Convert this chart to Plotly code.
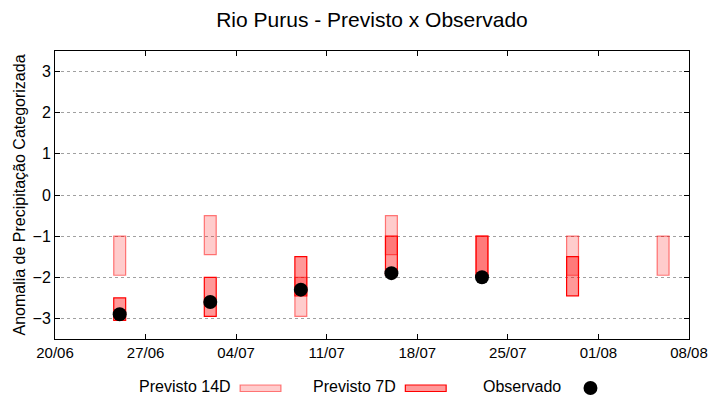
import plotly.graph_objects as go

# ---- data ----
dates = ["2024-06-25", "2024-07-02", "2024-07-09", "2024-07-16",
         "2024-07-23", "2024-07-30", "2024-08-06"]
prev14_top = [-1.0, -0.5, -2.0, -0.5, -1.0, -1.0, -1.0]
prev14_bot = [-1.95, -1.45, -2.95, -1.45, -1.95, -1.95, -1.95]
prev7_top = [-2.5, -2.0, -1.5, -1.0, -1.0, -1.5, None]
prev7_bot = [-3.05, -2.95, -2.45, -1.95, -1.95, -2.45, None]
observado = [-2.9, -2.6, -2.3, -1.9, -2.0, None, None]

x_tick_dates = ["2024-06-20", "2024-06-27", "2024-07-04", "2024-07-11",
                "2024-07-18", "2024-07-25", "2024-08-01", "2024-08-08"]
x_tick_labels = ["20/06", "27/06", "04/07", "11/07", "18/07", "25/07", "01/08", "08/08"]
y_ticks = [-3, -2, -1, 0, 1, 2, 3]

DAY = 86400000
bar_w = 0.92 * DAY

FONT = "Liberation Sans, Arial, sans-serif"

def spans(top, bot):
    xs, h, b = [], [], []
    for d, t, bo in zip(dates, top, bot):
        if t is None:
            continue
        xs.append(d)
        h.append(t - bo)
        b.append(bo)
    return xs, h, b

fig = go.Figure()

x14, h14, b14 = spans(prev14_top, prev14_bot)
fig.add_trace(go.Bar(x=x14, y=h14, base=b14, width=[bar_w] * len(x14),
                     marker=dict(color="rgba(255,0,0,0.2)",
                                 line=dict(color="rgba(255,0,0,0.5)", width=1.2)),
                     name="Previsto 14D", showlegend=False))

x7, h7, b7 = spans(prev7_top, prev7_bot)
fig.add_trace(go.Bar(x=x7, y=h7, base=b7, width=[bar_w] * len(x7),
                     marker=dict(color="rgba(255,0,0,0.4)",
                                 line=dict(color="#ff0000", width=1.2)),
                     name="Previsto 7D", showlegend=False))

ox = [d for d, v in zip(dates, observado) if v is not None]
oy = [v for v in observado if v is not None]
fig.add_trace(go.Scatter(x=ox, y=oy, mode="markers",
                         marker=dict(color="black", size=14),
                         name="Observado", showlegend=False))

# ---- gnuplot-style legend below the plot (paper coords) ----
L, R, T, B = 55, 692, 51, 339
def px(x):
    return (x - L) / (R - L)
def py(y):
    return (B - y) / (B - T)

leg_y = 386
items = [("Previsto 14D", 234, "box14"), ("Previsto 7D", 400, "box7"), ("Observado", 565, "dot")]
for text, xr, kind in items:
    fig.add_annotation(x=px(xr), y=py(leg_y), xref="paper", yref="paper",
                       text=text, showarrow=False, xanchor="right", yanchor="middle",
                       font=dict(family=FONT, size=16, color="#000"))
fig.add_shape(type="rect", xref="paper", yref="paper",
              x0=px(241), x1=px(282), y0=py(385), y1=py(391.5),
              fillcolor="rgba(255,0,0,0.2)", line=dict(color="rgba(255,0,0,0.5)", width=1.2))
fig.add_shape(type="rect", xref="paper", yref="paper",
              x0=px(407), x1=px(448), y0=py(385), y1=py(391.5),
              fillcolor="rgba(255,0,0,0.4)", line=dict(color="#ff0000", width=1.2))
fig.add_shape(type="circle", xref="paper", yref="paper",
              x0=px(586), x1=px(600), y0=py(381), y1=py(395),
              fillcolor="black", line=dict(color="black", width=0))

fig.update_layout(
    width=720, height=400,
    margin=dict(l=L, r=720 - R, t=T, b=400 - B),
    paper_bgcolor="white", plot_bgcolor="white",
    barmode="overlay",
    title=dict(text="Rio Purus - Previsto x Observado", x=0.5, xref="paper",
               y=1 - 20 / 400, yanchor="middle",
               font=dict(family=FONT, size=21, color="#000")),
    font=dict(family=FONT, size=16, color="#000"),
    xaxis=dict(type="date", range=["2024-06-20", "2024-08-08"],
               tickvals=x_tick_dates, ticktext=x_tick_labels,
               ticks="inside", ticklen=5, tickcolor="black",
               showline=True, linecolor="black", linewidth=1, mirror="ticks",
               showgrid=False, zeroline=False,
               tickfont=dict(family=FONT, size=15)),
    yaxis=dict(range=[-3.5, 3.5], tickvals=y_ticks,
               ticks="inside", ticklen=5, tickcolor="black",
               showline=True, linecolor="black", linewidth=1, mirror="ticks",
               showgrid=True, gridcolor="#a0a0a0", griddash="dot", gridwidth=1,
               zeroline=False, automargin=False,
               title=dict(text="Anomalia de Precipitação Categorizada",
                          font=dict(family=FONT, size=16), standoff=2),
               tickfont=dict(family=FONT, size=16)),
)

fig.write_html("out.html", config={"displayModeBar": False},
               post_script="document.body.style.margin='0';document.body.style.overflow='hidden';")
